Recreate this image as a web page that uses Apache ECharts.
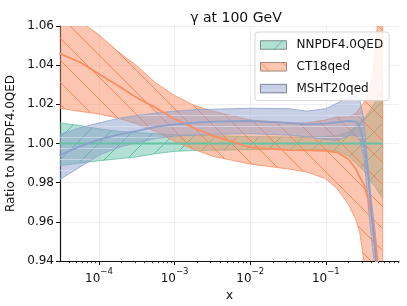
<!DOCTYPE html>
<html><head><meta charset="utf-8">
<script src="https://cdn.jsdelivr.net/npm/echarts@6/dist/echarts.min.js"></script>
<style>html,body{margin:0;padding:0;background:#fff}#c{width:407px;height:306px}</style>
</head><body><div id="c"></div>
<script>
// ---- data ----
const xValues = [3.0e-5, 5.6e-5, 1e-4, 1.8e-4, 3.2e-4, 5.6e-4, 1e-3, 1.8e-3, 3.2e-3, 1e-2, 3.2e-2, 5.6e-2, 0.1, 0.14, 0.2, 0.25, 0.28, 0.32, 0.355, 0.4, 0.45, 0.5, 0.54, 0.565];

const nnpdfCentral = [1,1,1,1,1,1,1,1,1,1,1,1,1,1,1,1,1,1,1,1,1,1,1,1];
const nnpdfUpper   = [1.0105,1.0092,1.0075,1.0062,1.0055,1.005,1.0045,1.0042,1.004,1.0035,1.0033,1.0033,1.0035,1.004,1.006,1.009,1.011,1.013,1.015,1.018,1.021,1.024,1.028,1.032];
const nnpdfLower   = [0.9887,0.990,0.9912,0.9922,0.9932,0.9948,0.996,0.9964,0.9966,0.9968,0.997,0.997,0.997,0.996,0.9935,0.990,0.988,0.986,0.984,0.980,0.978,0.975,0.973,0.972];

const ct18Central = [1.046,1.0415,1.0355,1.0295,1.0232,1.0183,1.0125,1.008,1.004,0.998,0.9966,0.9965,0.9963,0.9955,0.992,0.987,0.983,0.979,0.973,0.964,0.952,0.935,0.92,0.91];
const ct18Upper   = [1.072,1.0625,1.0555,1.0468,1.0395,1.031,1.0245,1.0195,1.0165,1.012,1.0105,1.0105,1.012,1.0135,1.0135,1.0155,1.018,1.021,1.024,1.031,1.045,1.07,1.10,1.12];
const ct18Lower   = [1.0181,1.0164,1.0151,1.0129,1.010,1.0062,1.001,0.997,0.9935,0.9895,0.987,0.9855,0.982,0.977,0.969,0.961,0.955,0.940,0.925,0.910,0.890,0.870,0.850,0.840];

const mshtCentral = [0.994,0.9985,1.002,1.0045,1.0065,1.0085,1.0098,1.0106,1.0112,1.0115,1.0105,1.0098,1.0102,1.0108,1.0115,1.0112,1.0085,1.000,0.988,0.966,0.945,0.920,0.900,0.880];
const mshtUpper   = [1.0045,1.008,1.0105,1.0128,1.0143,1.0155,1.0165,1.0172,1.0175,1.018,1.0178,1.0165,1.0178,1.0205,1.0235,1.0243,1.023,1.012,0.992,0.971,0.955,0.930,0.910,0.900];
const mshtLower   = [0.9815,0.988,0.994,0.998,1.0005,1.0025,1.0038,1.0043,1.0047,1.005,1.0043,1.0035,1.002,1.0015,1.004,1.004,1.002,0.993,0.9725,0.952,0.935,0.910,0.890,0.870];

const seriesNames = ['NNPDF4.0QED', 'CT18qed', 'MSHT20qed'];
const xMajorTicks = [1e-4, 1e-3, 1e-2, 1e-1];
const xMinorTicks = [];
for (let e = -5; e <= -1; e++) for (let k = 2; k <= 9; k++) xMinorTicks.push(k * Math.pow(10, e));

// ---- styling ----
const FONT = 'DejaVu Sans';
const COLORS = {n: [102,194,165], c: [252,141,98], m: [141,160,203]};
function rgba(c, a) { return 'rgba(' + c[0] + ',' + c[1] + ',' + c[2] + ',' + a + ')'; }
function hatch(fill, line, kind, size, lw) {
  const cv = document.createElement('canvas'); cv.width = size; cv.height = size;
  const g = cv.getContext('2d');
  g.fillStyle = fill; g.fillRect(0, 0, size, size);
  g.strokeStyle = line; g.lineWidth = lw; g.beginPath();
  if (kind === '/') { for (const k of [-size, 0, size]) { g.moveTo(k, size); g.lineTo(k + size, 0); } }
  else if (kind === '\\') { for (const k of [-size, 0, size]) { g.moveTo(k, 0); g.lineTo(k + size, size); } }
  else { g.moveTo(0, size / 2); g.lineTo(size, size / 2); }
  g.stroke();
  return {image: cv, repeat: 'repeat'};
}
const patN = hatch(rgba(COLORS.n, 0.5), rgba([80,180,145], 0.85), '/', 22, 1);
const patC = hatch(rgba(COLORS.c, 0.5), rgba([250,120,75], 0.85), '\\', 22, 1);
const patM = hatch(rgba(COLORS.m, 0.5), 'rgba(225,230,245,0.55)', '-', 11, 1);

function pairs(arr) { return xValues.map((x, i) => [x, arr[i]]); }

function band(key, name, upper, lower, central, pat) {
  const col = COLORS[key];
  return [
    {type: 'custom', name: name, silent: true, clip: true, z: 2,
     itemStyle: {color: pat},
     data: xValues.map((x, i) => [x, lower[i], upper[i]]),
     encode: {x: 0, y: [1, 2]},
     renderItem: function (params, api) {
       if (params.dataIndex !== 0) return null;
       const top = xValues.map((x, i) => api.coord([x, upper[i]]));
       const bot = xValues.map((x, i) => api.coord([x, lower[i]])).reverse();
       const cs = params.coordSys;
       return {type: 'group',
         clipPath: {type: 'rect', shape: {x: cs.x, y: cs.y, width: cs.width, height: cs.height}},
         children: [{type: 'polygon', shape: {points: top.concat(bot)},
                     style: {fill: pat, stroke: rgba(col, 0.8), lineWidth: 1}}]};
     }},
    {type: 'line', data: pairs(central), symbol: 'none', silent: true,
     lineStyle: {color: rgba(col, 1), width: 1.8}, z: 3}
  ];
}

const chart = echarts.init(document.getElementById('c'), null, {renderer: 'canvas'});
chart.setOption({
  animation: false,
  textStyle: {fontFamily: FONT},
  title: {text: 'γ at 100 GeV', left: 231, top: 6, textAlign: 'center',
          textStyle: {fontFamily: FONT, fontSize: 14, fontWeight: 'normal', color: '#111'}},
  grid: {left: 60, right: 8, top: 26, bottom: 45, containLabel: false, outerBoundsMode: 'none'},
  legend: {
    orient: 'vertical', left: 255, top: 32, padding: [7, 6, 6, 5], itemGap: 9.8,
    itemWidth: 26, itemHeight: 8.5,
    backgroundColor: 'rgba(255,255,255,0.85)', borderColor: '#d6d6d6', borderWidth: 1, borderRadius: 3,
    textStyle: {fontFamily: FONT, fontSize: 12, color: '#111', padding: [0, 0, 0, 5]},
    data: [
      {name: seriesNames[0], icon: 'rect', itemStyle: {color: patN, borderColor: '#7d8f88', borderWidth: 1}},
      {name: seriesNames[1], icon: 'rect', itemStyle: {color: patC, borderColor: '#a58878', borderWidth: 1}},
      {name: seriesNames[2], icon: 'rect', itemStyle: {color: patM, borderColor: '#80848f', borderWidth: 1}}
    ]
  },
  xAxis: [
    {type: 'log', min: 3.05e-5, max: 0.93, logBase: 10,
     name: 'x', nameLocation: 'middle', nameGap: 22,
     nameTextStyle: {fontFamily: FONT, fontSize: 12, color: '#111'},
     axisLine: {lineStyle: {color: '#111', width: 1.2}},
     axisTick: {show: true, inside: false, length: 4, customValues: xMajorTicks, lineStyle: {color: '#111', width: 1}},
     axisLabel: {customValues: xMajorTicks, margin: 6, color: '#111',
       formatter: v => '{b|10}{s|−' + Math.round(-Math.log10(v)) + '}',
       rich: {b: {fontFamily: FONT, fontSize: 12, color: '#111', lineHeight: 18, verticalAlign: 'bottom'},
              s: {fontFamily: FONT, fontSize: 8.5, color: '#111', lineHeight: 10, verticalAlign: 'top'}}},
     splitLine: {show: true, lineStyle: {color: '#ebebeb', width: 0.8}},
     minorTick: {show: false}, minorSplitLine: {show: false}},
    {type: 'log', min: 3.05e-5, max: 0.93, logBase: 10, position: 'bottom',
     axisLine: {show: false},
     axisTick: {show: true, inside: false, length: 2.2, customValues: xMinorTicks, lineStyle: {color: '#111', width: 0.8}},
     axisLabel: {show: false}, splitLine: {show: false}}
  ],
  yAxis: {
    type: 'value', min: 0.94, max: 1.06, interval: 0.02,
    name: 'Ratio to NNPDF4.0QED', nameLocation: 'middle', nameGap: 42,
    nameTextStyle: {fontFamily: FONT, fontSize: 12, color: '#111'},
    axisLine: {show: true, lineStyle: {color: '#111', width: 1.2}},
    axisTick: {show: true, inside: false, length: 4, lineStyle: {color: '#111'}},
    axisLabel: {color: '#111', fontSize: 12, fontFamily: FONT, margin: 6, formatter: v => v.toFixed(2)},
    splitLine: {show: true, lineStyle: {color: '#ebebeb', width: 0.8}}
  },
  series: [].concat(
    band('n', seriesNames[0], nnpdfUpper, nnpdfLower, nnpdfCentral, patN),
    band('c', seriesNames[1], ct18Upper, ct18Lower, ct18Central, patC),
    band('m', seriesNames[2], mshtUpper, mshtLower, mshtCentral, patM)
  )
});
</script></body></html>
